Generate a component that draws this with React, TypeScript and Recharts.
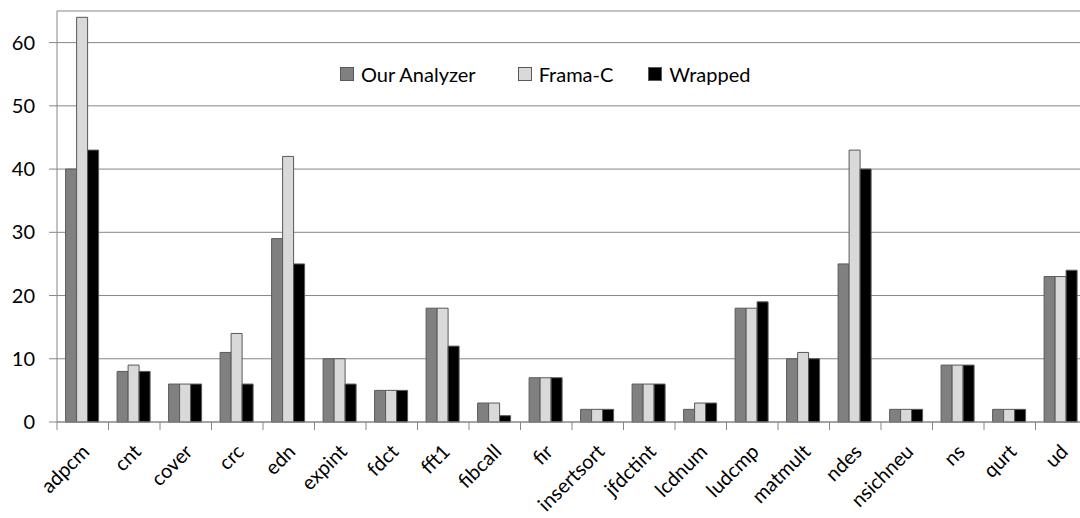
import { Bar, BarChart, CartesianGrid, Text, XAxis, YAxis } from "recharts";

const benchmarks = [
  "adpcm", "cnt", "cover", "crc", "edn", "expint", "fdct", "fft1", "fibcall", "fir",
  "insertsort", "jfdctint", "lcdnum", "ludcmp", "matmult", "ndes", "nsichneu", "ns", "qurt", "ud",
];
const ourAnalyzer = [40, 8, 6, 11, 29, 10, 5, 18, 3, 7, 2, 6, 2, 18, 10, 25, 2, 9, 2, 23];
const framaC = [64, 9, 6, 14, 42, 10, 5, 18, 3, 7, 2, 6, 3, 18, 11, 43, 2, 9, 2, 23];
const wrapped = [43, 8, 6, 6, 25, 6, 5, 12, 1, 7, 2, 6, 3, 19, 10, 40, 2, 9, 2, 24];
const yTicks = [0, 10, 20, 30, 40, 50, 60];

const data = benchmarks.map((name, i) => ({
  name,
  ours: ourAnalyzer[i],
  frama: framaC[i],
  wrapped: wrapped[i],
}));

const FONT = "Lato, 'Open Sans', sans-serif";
const EDGE = "#595959";
const GRID = "#868686";

const series = [
  { key: "ours", label: "Our Analyzer", fill: "#808080" },
  { key: "frama", label: "Frama-C", fill: "#d9d9d9" },
  { key: "wrapped", label: "Wrapped", fill: "#000000" },
];

// excel puts the category ticks between groups, not under them
function renderTick(props: any) {
  const { x, y, payload, index } = props;
  const half = payload.offset || 0;
  const tx = x + 8;
  const ty = y + 23;
  return (
    <g key={`tick-${index}`}>
      <line x1={x - half} x2={x - half} y1={y - 8} y2={y} stroke={GRID} />
      {index === benchmarks.length - 1 && (
        <line x1={x + half} x2={x + half} y1={y - 8} y2={y} stroke={GRID} />
      )}
      <Text x={tx} y={ty} angle={-45} textAnchor="end" fontSize={20} fontFamily={FONT} fill="#000">
        {payload.value}
      </Text>
    </g>
  );
}

function ChartLegend() {
  return (
    <div
      style={{
        position: "absolute",
        left: 340,
        top: 64,
        display: "flex",
        alignItems: "center",
        fontFamily: FONT,
        fontSize: 20,
      }}
    >
      {series.map((s, i) => (
        <div
          key={s.key}
          style={{ display: "flex", alignItems: "center", marginRight: i === 0 ? 42 : 35 }}
        >
          <span
            style={{
              width: 12,
              height: 12,
              background: s.fill,
              border: `1px solid ${EDGE}`,
              marginRight: 7,
              display: "inline-block",
            }}
          />
          <span style={{ color: "#000", lineHeight: "20px" }}>{s.label}</span>
        </div>
      ))}
    </div>
  );
}

export default function App() {
  return (
    <div
      style={{
        position: "absolute",
        left: 0,
        top: 0,
        width: 1080,
        height: 518,
        overflow: "hidden",
        background: "#fff",
      }}
    >
      <BarChart
        width={1100}
        height={518}
        data={data}
        margin={{ top: 11, right: 13, bottom: 0, left: 0 }}
        barCategoryGap="16.7%"
        barGap={0}
      >
        <CartesianGrid vertical={false} stroke={GRID} />
        <XAxis
          dataKey="name"
          interval={0}
          height={96}
          stroke={GRID}
          tickLine={false}
          tickSize={8}
          tickMargin={0}
          tick={renderTick}
        />
        <YAxis
          width={57}
          domain={[0, 65]}
          ticks={yTicks}
          stroke={GRID}
          tickSize={8}
          tickMargin={14}
          tick={{ fill: "#000", fontSize: 20, fontFamily: FONT }}
        />
        {series.map((s) => (
          <Bar
            key={s.key}
            dataKey={s.key}
            name={s.label}
            fill={s.fill}
            stroke={EDGE}
            strokeWidth={1}
            isAnimationActive={false}
          />
        ))}
      </BarChart>
      <ChartLegend />
    </div>
  );
}
